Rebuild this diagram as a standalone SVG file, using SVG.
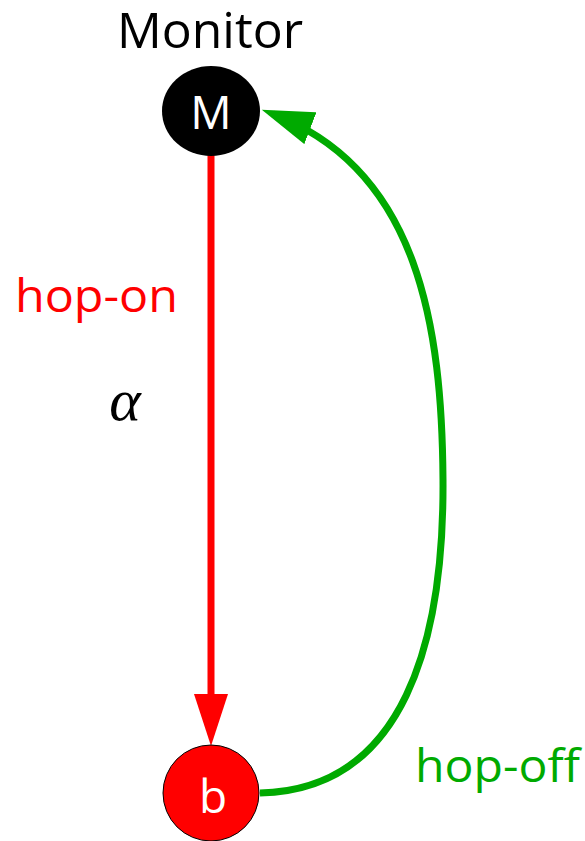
<svg xmlns="http://www.w3.org/2000/svg" width="585" height="841" viewBox="0 0 585 841">
<style>
.lbl{font-family:"Open Sans","Noto Sans",sans-serif;}
</style>
<defs>
<marker id="ar" markerUnits="userSpaceOnUse" markerWidth="52" markerHeight="34" refX="22" refY="17" viewBox="0 0 52 34" orient="auto"><path d="M0,0 L52,17 L0,34 Z" fill="#ff0000"/></marker>
<marker id="ag" markerUnits="userSpaceOnUse" markerWidth="52" markerHeight="34" refX="40" refY="17" viewBox="0 0 52 34" orient="auto"><path d="M0,0 L52,17 L0,34 Z" fill="#00aa00"/></marker>
</defs>
<rect width="585" height="841" fill="#fff"/>
<g id="connectors">
<path d="M211,155 L211,716" stroke="#ff0000" stroke-width="7" fill="none" marker-end="url(#ar)"/>
<path d="M260,793 C405,790 444,640 443,480 C442,330 420,170 273,114" stroke="#00aa00" stroke-width="7" fill="none" marker-end="url(#ag)"/>
</g>
<g id="monitor">
<ellipse cx="211" cy="111" rx="49" ry="45" fill="#000"/>
<text x="211" y="129" text-anchor="middle" class="lbl" font-size="46" fill="#fff">M</text>
<text x="210" y="48" text-anchor="middle" class="lbl" font-size="50" fill="#000" textLength="186" lengthAdjust="spacingAndGlyphs">Monitor</text>
</g>
<g id="b">
<circle cx="211" cy="793" r="48" fill="#ff0000" stroke="#000" stroke-width="1"/>
<text x="213" y="813" text-anchor="middle" class="lbl" font-size="46" fill="#fff">b</text>
</g>
<text x="15" y="312" class="lbl" font-size="46" fill="#ff0000" textLength="163" lengthAdjust="spacingAndGlyphs">hop-on</text>
<text x="415" y="782" class="lbl" font-size="46" fill="#00aa00" textLength="165" lengthAdjust="spacingAndGlyphs">hop-off</text>
<text x="125" y="420" text-anchor="middle" font-family="Liberation Serif,serif" font-style="italic" font-size="60" fill="#000">α</text>
</svg>
